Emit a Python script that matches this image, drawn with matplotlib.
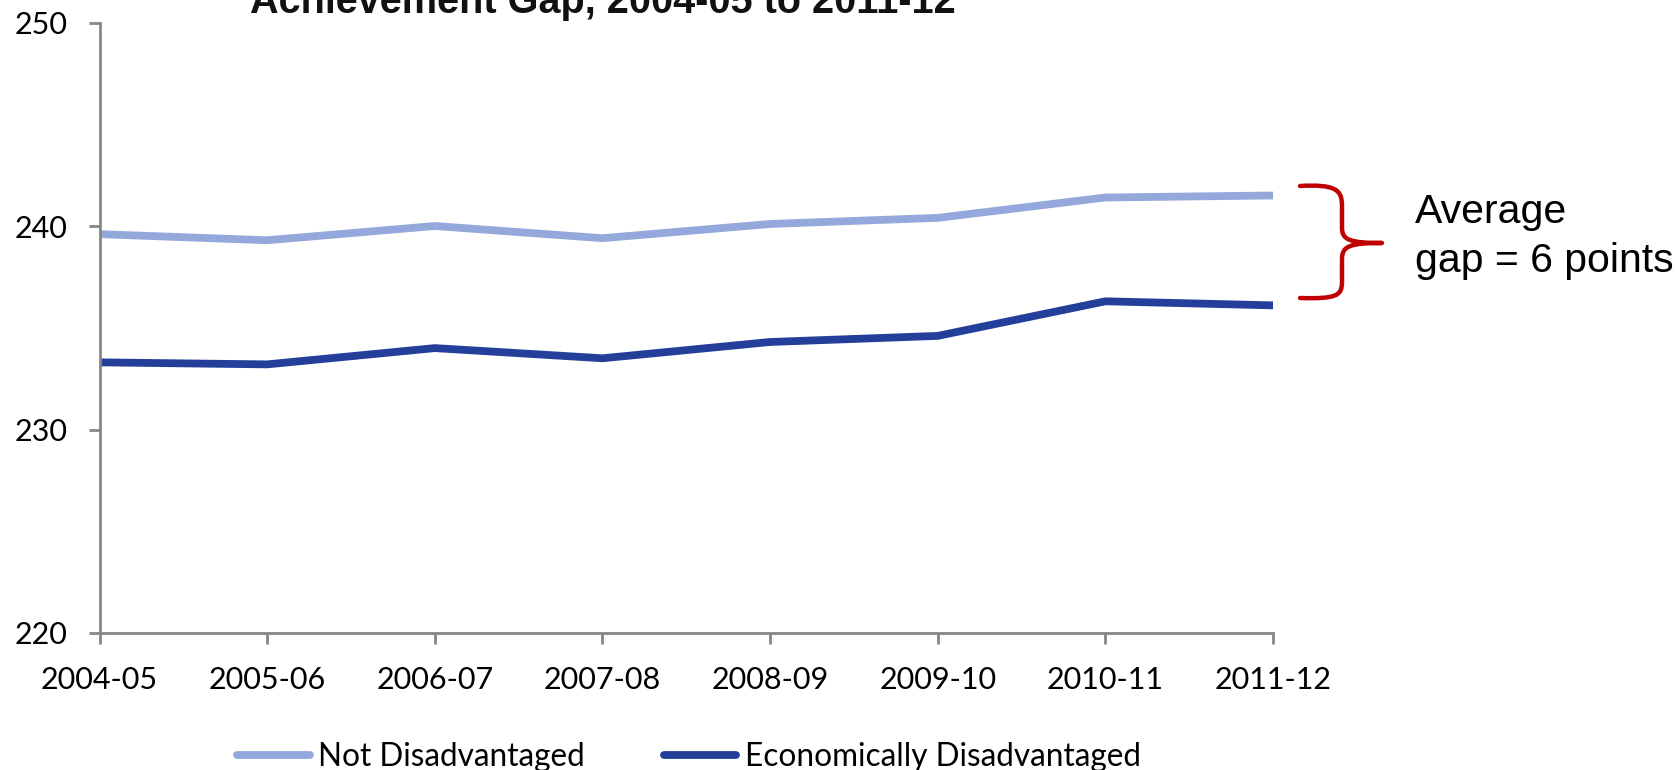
import matplotlib
matplotlib.use("Agg")
import matplotlib.pyplot as plt
from matplotlib.path import Path
from matplotlib.patches import PathPatch

years = ["2004-05", "2005-06", "2006-07", "2007-08", "2008-09", "2009-10", "2010-11", "2011-12"]
not_disadv = [239.6, 239.3, 240.0, 239.4, 240.1, 240.4, 241.4, 241.5]
econ_disadv = [233.3, 233.2, 234.0, 233.5, 234.3, 234.6, 236.3, 236.1]
yticks = [220, 230, 240, 250]
series_names = ["Not Disadvantaged", "Economically Disadvantaged"]
title_text = "Achievement Gap, 2004-05 to 2011-12"
gap_lines = ["Average", "gap = 6 points"]

W, H = 1678, 770
fig = plt.figure(figsize=(W / 100, H / 100), dpi=100)
ax = fig.add_axes([99.5 / W, 1 - 633 / H, (1273 - 99.5) / W, (633 - 22.5) / H])

x = list(range(len(years)))
ax.plot(x, not_disadv, color="#95A8DC", lw=5.6, solid_capstyle="round", label=series_names[0])
ax.plot(x, econ_disadv, color="#233F9A", lw=5.6, solid_capstyle="round", label=series_names[1])

ax.set_xlim(0, len(years) - 1)
ax.set_ylim(yticks[0], yticks[-1])
ax.set_xticks(x)
ax.set_xticklabels(years)
ax.set_yticks(yticks)

for s in ["top", "right"]:
    ax.spines[s].set_visible(False)
for s in ["left", "bottom"]:
    ax.spines[s].set_color("#868686")
    ax.spines[s].set_linewidth(2.0)
ax.tick_params(axis="both", which="major", direction="out", length=8, width=2.0, color="#868686")
ax.tick_params(axis="x", pad=16)
ax.tick_params(axis="y", pad=15)
for lab in ax.get_xticklabels() + ax.get_yticklabels():
    lab.set_fontfamily("Lato")
    lab.set_fontsize(22)
    lab.set_color("black")

# Title (top cut off as in the reference)
fig.text(603 / W, 1 - 13 / H, title_text, ha="center", va="baseline",
         fontsize=28.5, fontweight="bold", family="Liberation Sans", color="#111111")

# Legend
leg = fig.legend(loc="center left", bbox_to_anchor=(237 / W, 1 - 757 / H), ncol=2,
                 frameon=False, prop={"family": "Lato", "size": 22.7},
                 handlelength=2.3, handletextpad=0.27, columnspacing=2.5,
                 borderaxespad=0, borderpad=0)
for ln in leg.get_lines():
    ln.set_linewidth(5.6)

# Brace (figure pixel coordinates)
def P(px, py):
    return (px / W, 1 - py / H)

verts = [P(1300, 186),
         P(1336, 184), P(1342, 190), P(1342, 206),
         P(1342, 228),
         P(1342, 240), P(1350, 243), P(1382, 243),
         P(1350, 243), P(1342, 246), P(1342, 259),
         P(1342, 282),
         P(1342, 296), P(1336, 299), P(1300, 298)]
codes = [Path.MOVETO,
         Path.CURVE4, Path.CURVE4, Path.CURVE4,
         Path.LINETO,
         Path.CURVE4, Path.CURVE4, Path.CURVE4,
         Path.CURVE4, Path.CURVE4, Path.CURVE4,
         Path.LINETO,
         Path.CURVE4, Path.CURVE4, Path.CURVE4]
brace = PathPatch(Path(verts, codes), transform=fig.transFigure, facecolor="none",
                  edgecolor="#C00000", lw=3.2, capstyle="round", joinstyle="round")
fig.add_artist(brace)

for i, line in enumerate(gap_lines):
    fig.text(1415 / W, 1 - (223 + 49 * i) / H, line, ha="left", va="baseline", fontsize=29.5,
             family="Liberation Sans", color="black")

fig.savefig("out.png", dpi=100, facecolor="white")
